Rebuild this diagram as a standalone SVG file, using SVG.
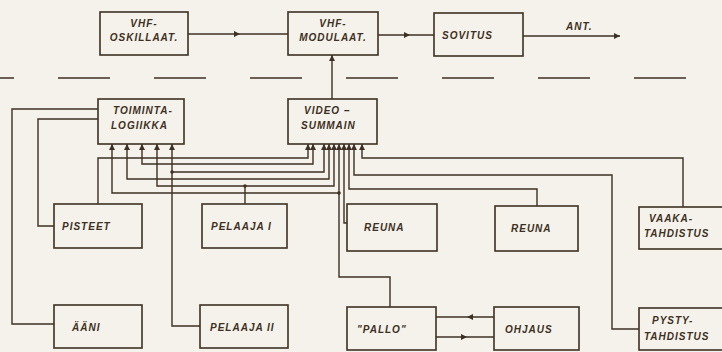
<svg xmlns="http://www.w3.org/2000/svg" width="722" height="352" viewBox="0 0 722 352">
<defs>
<marker id="ah" viewBox="0 0 10 10" refX="10" refY="5" markerWidth="8" markerHeight="6" markerUnits="userSpaceOnUse" orient="auto">
<path d="M0,0 L10,5 L0,10 z" fill="#3d3024"/>
</marker>
<marker id="as" viewBox="0 0 10 10" refX="10" refY="5" markerWidth="8" markerHeight="6" markerUnits="userSpaceOnUse" orient="auto-start-reverse">
<path d="M0,0 L10,5 L0,10 z" fill="#3d3024"/>
</marker>
<style>
.bx{fill:none;stroke:#3d3024;stroke-width:1.6}
.ln{fill:none;stroke:#3d3024;stroke-width:1.4}
.t{font-family:"Liberation Sans",Arial,sans-serif;font-weight:bold;font-style:italic;font-size:10px;letter-spacing:1px;fill:#3d3024}
.m{text-anchor:middle}
</style>
</defs>
<rect width="722" height="352" fill="#f5f2eb"/>

<g id="vhf-osc"><rect class="bx" x="100" y="12" width="88" height="43"/><text class="t m" x="144" y="27">VHF-</text><text class="t m" x="144" y="41">OSKILLAAT.</text></g>
<g id="vhf-mod"><rect class="bx" x="288" y="12" width="90" height="43"/><text class="t m" x="333" y="27">VHF-</text><text class="t m" x="333" y="41">MODULAAT.</text></g>
<g id="sovitus"><rect class="bx" x="434" y="13" width="89" height="43"/><text class="t" x="442" y="39">SOVITUS</text></g>
<g id="ant"><text class="t" x="566" y="30">ANT.</text></g>

<g id="toiminta"><rect class="bx" x="98" y="99" width="86" height="45"/><text class="t" x="113" y="114">TOIMINTA-</text><text class="t" x="111" y="129">LOGIIKKA</text></g>
<g id="video"><rect class="bx" x="288" y="99" width="89" height="45"/><text class="t" x="304" y="114">VIDEO –</text><text class="t" x="301" y="129">SUMMAIN</text></g>

<g id="pisteet"><rect class="bx" x="54" y="204" width="88" height="44"/><text class="t" x="62" y="230">PISTEET</text></g>
<g id="pelaaja1"><rect class="bx" x="202" y="204" width="85" height="44"/><text class="t" x="211" y="230">PELAAJA I</text></g>
<g id="reuna1"><rect class="bx" x="347" y="204" width="90" height="47"/><text class="t" x="364" y="231">REUNA</text></g>
<g id="reuna2"><rect class="bx" x="495" y="206" width="83" height="45"/><text class="t" x="511" y="232">REUNA</text></g>
<g id="vaaka"><rect class="bx" x="639" y="207" width="90" height="42"/><text class="t" x="649" y="222">VAAKA-</text><text class="t" x="644" y="237">TAHDISTUS</text></g>

<g id="aani"><rect class="bx" x="54" y="305" width="88" height="43"/><text class="t" x="72" y="331">ÄÄNI</text></g>
<g id="pelaaja2"><rect class="bx" x="200" y="305" width="88" height="43"/><text class="t" x="210" y="331">PELAAJA II</text></g>
<g id="pallo"><rect class="bx" x="347" y="307" width="89" height="43"/><text class="t" x="357" y="333">"PALLO"</text></g>
<g id="ohjaus"><rect class="bx" x="494" y="307" width="85" height="43"/><text class="t" x="505" y="333">OHJAUS</text></g>
<g id="pysty"><rect class="bx" x="639" y="308" width="90" height="42"/><text class="t" x="652" y="324">PYSTY-</text><text class="t" x="644" y="340">TAHDISTUS</text></g>

<g id="connectors">
<line class="ln" x1="0" y1="78" x2="722" y2="78" stroke-dasharray="52 44" stroke-dashoffset="38"/>
<path class="ln" d="M188 34 H240 H288" marker-mid="url(#ah)"/>
<path class="ln" d="M378 35 H410 H434" marker-mid="url(#ah)"/>
<path class="ln" d="M523 36 H620" marker-end="url(#ah)"/>
<path class="ln" d="M332 99 V55" marker-end="url(#ah)"/>

<path class="ln" d="M98 109 H12 V324 H54"/>
<path class="ln" d="M98 119 H38 V226 H54"/>

<path class="ln" d="M98 204 V158 H308 V144" marker-end="url(#ah)"/>
<path class="ln" d="M142 144 V164 H313 V144" marker-end="url(#ah)" marker-start="url(#as)"/>
<path class="ln" d="M172 144 V326 H200" marker-start="url(#as)"/>
<path class="ln" d="M172 172 H324 V144" marker-end="url(#ah)"/>
<path class="ln" d="M127 144 V179 H329 V144" marker-end="url(#ah)" marker-start="url(#as)"/>
<path class="ln" d="M157 144 V186 H334 V144" marker-end="url(#ah)" marker-start="url(#as)"/>
<path class="ln" d="M245 204 V186"/>
<path class="ln" d="M112 144 V193 H339" marker-start="url(#as)"/>
<path class="ln" d="M390 307 V277 H339 V144" marker-end="url(#ah)"/>
<path class="ln" d="M347 223 H344 V144" marker-end="url(#ah)"/>
<path class="ln" d="M537 206 V189 H349 V144" marker-end="url(#ah)"/>
<path class="ln" d="M639 329 H612 V175 H354 V144" marker-end="url(#ah)"/>
<path class="ln" d="M683 207 V158 H362 V144" marker-end="url(#ah)"/>
<circle cx="172" cy="172" r="1.8" fill="#3d3024"/>
<circle cx="245" cy="186" r="1.8" fill="#3d3024"/>
<circle cx="339" cy="193" r="1.8" fill="#3d3024"/>

<path class="ln" d="M494 317 H467 H436" marker-mid="url(#ah)"/>
<path class="ln" d="M436 337 H467 H494" marker-mid="url(#ah)"/>
</g>
</svg>
